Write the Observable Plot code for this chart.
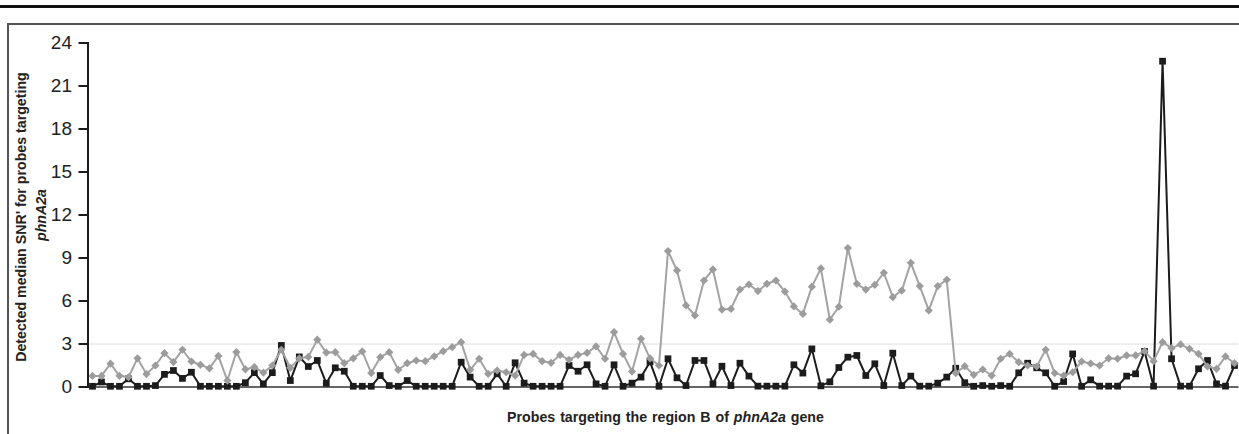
<!DOCTYPE html>
<html>
<head>
<meta charset="utf-8">
<script src="https://cdn.jsdelivr.net/npm/d3@7"></script>
<script src="https://cdn.jsdelivr.net/npm/@observablehq/plot@0.6"></script>
<style>
  html, body { margin: 0; padding: 0; background: #fff; }
  body { width: 1239px; height: 434px; overflow: hidden; position: relative;
         font-family: "Liberation Sans", Arial, sans-serif; }
  #topline { position: absolute; left: 0; top: 5px; width: 1239px; height: 3px; background: #111; }
  #box { position: absolute; left: 7px; top: 23px; width: 1300px; height: 500px;
         border-left: 2px solid #555; border-top: 2px solid #555; }
  #chart { position: absolute; left: 0; top: 0; }
  .ylab { position: absolute; width: 360px; text-align: center; font-weight: bold;
          font-size: 14.2px; color: #222; transform: rotate(-90deg); transform-origin: 50% 50%;
          white-space: nowrap; line-height: 16px; height: 16px; }
  #xlab { position: absolute; left: 0; width: 1239px; top: 409px; padding-left: 92px; box-sizing: border-box;
          text-align: center; font-weight: bold; font-size: 14.2px; color: #222; word-spacing: 1px; }
</style>
</head>
<body>
<div id="topline"></div>
<div id="box"></div>
<div id="chart"></div>
<div class="ylab" style="left:-159px; top:209px;">Detected median SNR' for probes targeting</div>
<div class="ylab" style="left:-139px; top:207px;"><i>phnA2a</i></div>
<div id="xlab">Probes targeting the region B of <i>phnA2a</i> gene</div>
<script>
// Probe index (1..128) along the region B of phnA2a
const probes = d3.range(1, 129);

// Black series (squares)
const seriesBlack = [
  0.05, 0.35, 0.05, 0.05, 0.57, 0.05, 0.05, 0.1, 0.88, 1.15,
  0.6, 1.03, 0.05, 0.05, 0.05, 0.05, 0.05, 0.3, 1.0, 0.22,
  1.0, 2.9, 0.45, 2.1, 1.43, 1.85, 0.26, 1.34, 1.1, 0.05,
  0.05, 0.05, 0.8, 0.1, 0.05, 0.45, 0.05, 0.05, 0.05, 0.05,
  0.05, 1.73, 0.69, 0.05, 0.05, 0.92, 0.05, 1.69, 0.27, 0.05,
  0.05, 0.05, 0.05, 1.5, 1.1, 1.55, 0.22, 0.05, 1.55, 0.05,
  0.27, 0.69, 1.75, 0.05, 1.97, 0.64, 0.1, 1.85, 1.85, 0.22,
  1.45, 0.1, 1.66, 0.76, 0.06, 0.06, 0.06, 0.06, 1.55, 0.97,
  2.66, 0.08, 0.36, 1.36, 2.08, 2.2, 0.8, 1.62, 0.1, 2.36,
  0.1, 0.76, 0.06, 0.06, 0.27, 0.69, 1.31, 0.3, 0.05, 0.1,
  0.05, 0.1, 0.05, 0.99, 1.66, 1.34, 0.99, 0.05, 0.38, 2.31,
  0.05, 0.5, 0.06, 0.06, 0.06, 0.76, 0.92, 2.48, 0.06, 22.73,
  1.97, 0.06, 0.06, 1.27, 1.85, 0.22, 0.06, 1.5
];

// Gray series (diamonds)
const seriesGray = [
  0.77, 0.77, 1.63, 0.78, 0.68, 2.0, 0.9, 1.5, 2.36, 1.74,
  2.6, 1.78, 1.55, 1.3, 2.17, 0.45, 2.44, 1.23, 1.39, 1.0,
  1.5, 2.6, 1.34, 2.0, 2.1, 3.3, 2.4, 2.43, 1.66, 2.0,
  2.48, 0.97, 2.08, 2.43, 1.2, 1.66, 1.85, 1.8, 2.13, 2.5,
  2.78, 3.13, 1.2, 1.97, 0.92, 1.15, 1.03, 0.8, 2.24, 2.31,
  1.8, 1.69, 2.24, 1.9, 2.24, 2.38, 2.83, 1.97, 3.83, 2.31,
  1.08, 3.36, 2.0, 1.5, 9.48, 8.13, 5.69, 4.99, 7.43, 8.2,
  5.4, 5.45, 6.8, 7.15, 6.69, 7.2, 7.43, 6.66, 5.62, 5.1,
  7.0, 8.27, 4.7, 5.6, 9.69, 7.2, 6.8, 7.13, 7.97, 6.27,
  6.73, 8.66, 7.04, 5.34, 7.04, 7.48, 0.97, 1.45, 0.85, 1.22,
  0.8, 1.97, 2.31, 1.73, 1.5, 1.43, 2.6, 0.97, 0.8, 1.03,
  1.78, 1.64, 1.5, 2.0, 1.97, 2.2, 2.2, 2.5, 1.8, 3.13,
  2.71, 2.97, 2.66, 2.31, 1.43, 1.27, 2.13, 1.66
];

const yTicks = [0, 3, 6, 9, 12, 15, 18, 21, 24];
const refLine = [3];
const baseLine = [0];

const black = probes.map((p, i) => ({probe: p, value: seriesBlack[i]}));
const gray = probes.map((p, i) => ({probe: p, value: seriesGray[i]}));

const chart = Plot.plot({
  width: 1239,
  height: 434,
  marginLeft: 87.5,
  marginRight: 0.5,
  marginTop: 42.5,
  marginBottom: 47.5,
  style: {background: "transparent", fontFamily: "'Liberation Sans', Arial, sans-serif"},
  x: {domain: [0.5, 128.5], axis: null},
  y: {domain: [0, 24], ticks: yTicks, axis: null},
  marks: [
    Plot.ruleY(refLine, {stroke: "#dcdcdc", strokeWidth: 1}),
    Plot.ruleY(baseLine, {stroke: "#666", strokeWidth: 2}),
    Plot.line(black, {x: "probe", y: "value", stroke: "#1c1c1c", strokeWidth: 2}),
    Plot.dot(black, {x: "probe", y: "value", symbol: "square", r: 3.8, fill: "#1c1c1c", stroke: "none"}),
    Plot.line(gray, {x: "probe", y: "value", stroke: "#a3a3a3", strokeWidth: 2}),
    Plot.dot(gray, {x: "probe", y: "value", symbol: "diamond2", r: 3.7, fill: "#9c9c9c", stroke: "none"}),
    Plot.axisY({ticks: yTicks, tickSize: 9, tickPadding: 7, fontSize: 19, stroke: "#1c1c1c", strokeWidth: 2, color: "#222", label: null}),
    Plot.frame({anchor: "left", stroke: "#1c1c1c", strokeWidth: 2})
  ]
});
document.getElementById("chart").appendChild(chart);
</script>
</body>
</html>
